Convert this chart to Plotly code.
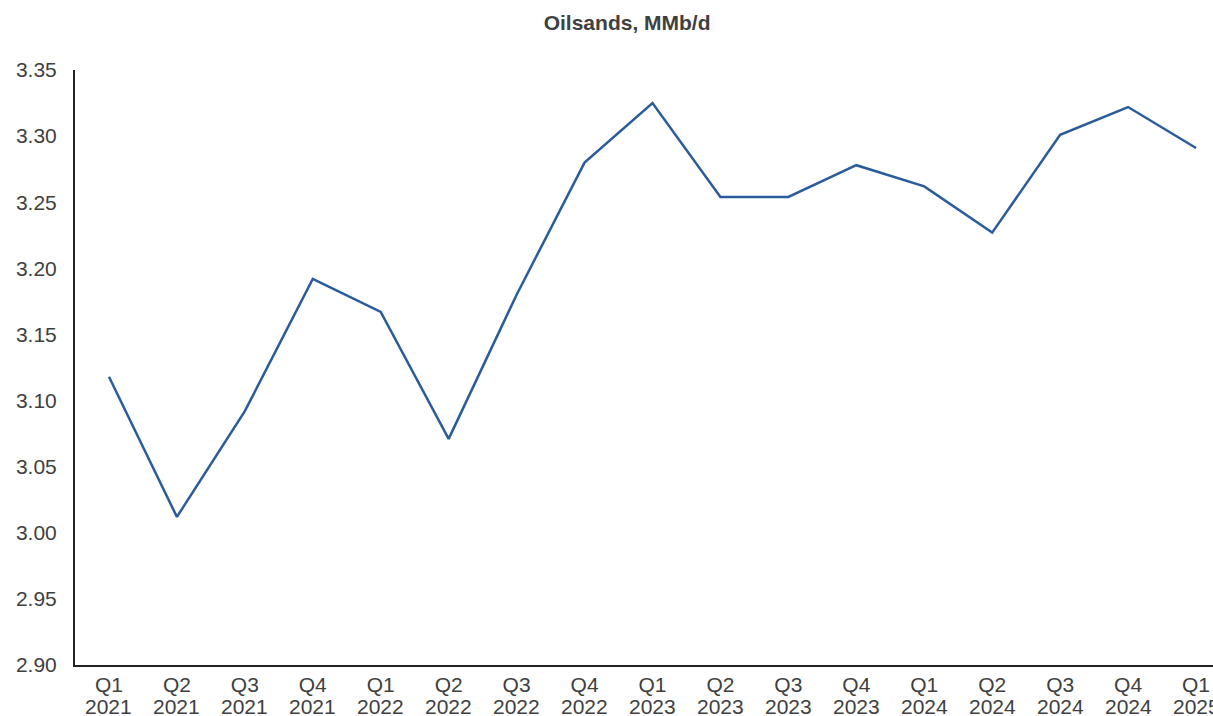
import plotly.graph_objects as go

quarters = ["Q1", "Q2", "Q3", "Q4", "Q1", "Q2", "Q3", "Q4", "Q1", "Q2", "Q3", "Q4",
            "Q1", "Q2", "Q3", "Q4", "Q1"]
years = ["2021", "2021", "2021", "2021", "2022", "2022", "2022", "2022",
         "2023", "2023", "2023", "2023", "2024", "2024", "2024", "2024", "2025"]
oilsands = [3.118, 3.012, 3.092, 3.192, 3.167, 3.071, 3.180, 3.280, 3.325,
            3.254, 3.254, 3.278, 3.262, 3.227, 3.301, 3.322, 3.291]

# one category per quarter; the quarter name is the tick label, the year sits below it
categories = [f"{q} {y}" for q, y in zip(quarters, years)]

font_family = "Liberation Sans, Arial, Helvetica, sans-serif"
text_color = "#404040"
tick_size = 21

fig = go.Figure(
    go.Scatter(
        x=categories,
        y=oilsands,
        mode="lines",
        line=dict(color="#2a5c9c", width=2.5),
        hoverinfo="x+y",
    )
)

year_labels = [
    dict(
        x=c, y=0, xref="x", yref="paper",
        text=y, showarrow=False,
        xanchor="center", yanchor="middle", yshift=-41,
        font=dict(family=font_family, size=tick_size, color=text_color),
    )
    for c, y in zip(categories, years)
]

fig.update_layout(
    width=1213,
    height=716,
    margin=dict(l=75, r=0, t=70, b=51),
    paper_bgcolor="white",
    plot_bgcolor="white",
    showlegend=False,
    annotations=year_labels,
    title=dict(
        text="<b>Oilsands, MMb/d</b>",
        x=0.517,
        xanchor="center",
        y=0.969,
        yanchor="middle",
        font=dict(family=font_family, size=21, color=text_color),
    ),
)

fig.update_xaxes(
    type="category",
    range=[-0.5, 16.25],
    tickmode="array",
    tickvals=categories,
    ticktext=quarters,
    showline=True,
    linecolor="#222222",
    linewidth=2,
    showgrid=False,
    ticks="",
    tickangle=0,
    automargin=False,
    tickfont=dict(family=font_family, size=tick_size, color=text_color),
)

fig.update_yaxes(
    range=[2.90, 3.35],
    dtick=0.05,
    tick0=2.90,
    tickformat=".2f",
    showline=True,
    linecolor="#222222",
    linewidth=2,
    showgrid=False,
    zeroline=False,
    ticks="",
    ticklabelstandoff=12,
    automargin=False,
    tickfont=dict(family=font_family, size=tick_size, color=text_color),
)

fig.write_html("out.html")
